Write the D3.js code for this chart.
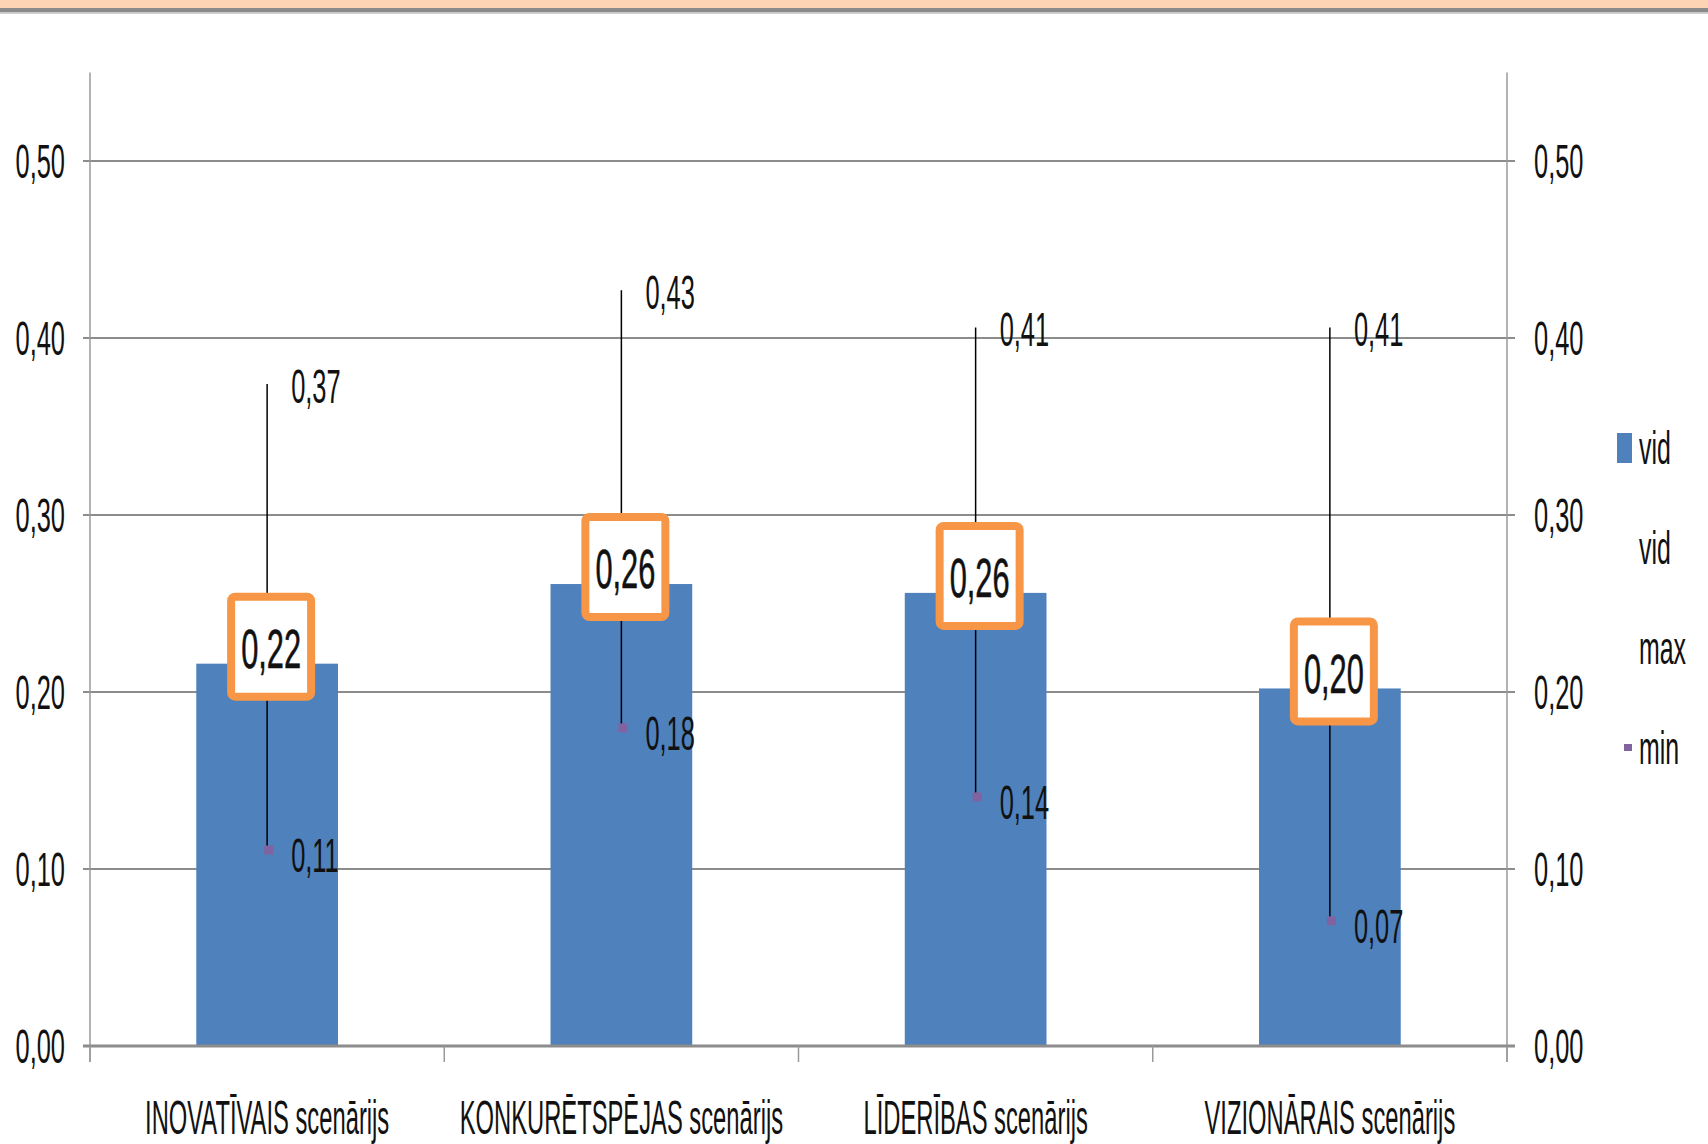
<!DOCTYPE html>
<html>
<head>
<meta charset="utf-8">
<script src="https://cdn.jsdelivr.net/npm/d3@7"></script>
<style>
  body { margin: 0; background: #fff; }
  text { font-family: "Liberation Sans", Arial, sans-serif; fill: #111; }
</style>
</head>
<body>
<div id="chart"></div>
<script>
var categories = ["INOVATĪVAIS scenārijs", "KONKURĒTSPĒJAS scenārijs", "LĪDERĪBAS scenārijs", "VIZIONĀRAIS scenārijs"];
var vid = [0.216, 0.261, 0.256, 0.202];
var maxVals = [0.374, 0.427, 0.406, 0.406];
var minVals = [0.111, 0.180, 0.141, 0.071];
var yTicks = [0, 0.1, 0.2, 0.3, 0.4, 0.5];
var legendItems = ["vid", "vid", "max", "min"];

var svgWidth = 1708;
var svgHeight = 1144;
var sx = 0.53; // narrow text like the original

var svg = d3.select("#chart")
  .append("svg")
  .attr("width", svgWidth)
  .attr("height", svgHeight);

var fmt = function(v) { return d3.format(".2f")(v).replace(".", ","); };

// squashed text helper
function label(g, x, y, txt, size, anchor, scale) {
  return g.append("text")
    .attr("transform", `translate(${x},${y}) scale(${scale || sx},1)`)
    .attr("text-anchor", anchor)
    .attr("dominant-baseline", "central")
    .attr("font-size", size)
    .text(txt);
}

// top border
svg.append("rect").attr("x", 0).attr("y", 0).attr("width", svgWidth).attr("height", 8).attr("fill", "#fdd4b4");
svg.append("rect").attr("x", 0).attr("y", 8).attr("width", svgWidth).attr("height", 4.5).attr("fill", "#8a8a8a");
svg.append("rect").attr("x", 0).attr("y", 12.5).attr("width", svgWidth).attr("height", 1.5).attr("fill", "#cfcfcf");

var x = d3.scaleBand()
  .domain(categories)
  .range([90, 1507])
  .padding(0);

var y = d3.scaleLinear()
  .domain([0, 0.55])
  .range([1046, 72.5]);

// gridlines
svg.append("g")
  .selectAll("line")
  .data(yTicks.slice(1))
  .enter()
  .append("line")
  .attr("x1", 83)
  .attr("x2", 1515)
  .attr("y1", d => y(d))
  .attr("y2", d => y(d))
  .attr("stroke", "#8c8c8c")
  .attr("stroke-width", 2);

// vertical axes
[90, 1507].forEach(function(ax) {
  svg.append("line")
    .attr("x1", ax).attr("x2", ax)
    .attr("y1", y(0.55)).attr("y2", 1062)
    .attr("stroke", "#9a9a9a")
    .attr("stroke-width", 1.5);
});

// bars
var barW = x.bandwidth() * 0.4;
svg.append("g")
  .selectAll("rect")
  .data(vid)
  .enter()
  .append("rect")
  .attr("x", (d, i) => x(categories[i]) + x.bandwidth() / 2 - barW / 2)
  .attr("y", d => y(d))
  .attr("width", barW)
  .attr("height", d => y(0) - y(d))
  .attr("fill", "#4f81bd");

// x axis line + category ticks
svg.append("line")
  .attr("x1", 83).attr("x2", 1515)
  .attr("y1", y(0)).attr("y2", y(0))
  .attr("stroke", "#8c8c8c")
  .attr("stroke-width", 3);

svg.append("g")
  .selectAll("line")
  .data(categories.concat(["end"]))
  .enter()
  .append("line")
  .attr("x1", (d, i) => i < categories.length ? x(d) : x.range()[1])
  .attr("x2", (d, i) => i < categories.length ? x(d) : x.range()[1])
  .attr("y1", y(0))
  .attr("y2", 1062)
  .attr("stroke", "#9a9a9a")
  .attr("stroke-width", 1.5);

// y tick labels, both sides
var tickG = svg.append("g");
yTicks.forEach(function(t) {
  label(tickG, 65, y(t), fmt(t), 48, "end");
  label(tickG, 1534, y(t), fmt(t), 48, "start");
});

// category labels
var catG = svg.append("g");
categories.forEach(function(c) {
  catG.append("text")
    .attr("transform", `translate(${x(c) + x.bandwidth() / 2},1134) scale(0.495,1)`)
    .attr("text-anchor", "middle")
    .attr("font-size", 48)
    .text(c);
});

// max-min lines
var errG = svg.append("g");
categories.forEach(function(c, i) {
  var cx = x(c) + x.bandwidth() / 2;
  errG.append("line")
    .attr("x1", cx).attr("x2", cx)
    .attr("y1", y(maxVals[i])).attr("y2", y(minVals[i]))
    .attr("stroke", "#000")
    .attr("stroke-width", 1.5);
  errG.append("rect")
    .attr("x", cx - 3).attr("y", y(minVals[i]) - 4)
    .attr("width", 9).attr("height", 9)
    .attr("fill", "#8064a2");
  label(errG, cx + 24, y(maxVals[i]) + 2, fmt(maxVals[i]), 48, "start");
  label(errG, cx + 24, y(minVals[i]) + 6, fmt(minVals[i]), 48, "start");
});

// vid label boxes
var boxG = svg.append("g");
categories.forEach(function(c, i) {
  var cx = x(c) + x.bandwidth() / 2 + 4;
  var cy = y(vid[i]) - 17;
  boxG.append("rect")
    .attr("x", cx - 40).attr("y", cy - 50)
    .attr("width", 80).attr("height", 100)
    .attr("rx", 4)
    .attr("fill", "#fff")
    .attr("stroke", "#f79646")
    .attr("stroke-width", 8);
  label(boxG, cx, cy + 2, fmt(vid[i]), 56, "middle", 0.55)
    .attr("stroke", "#111")
    .attr("stroke-width", 0.6);
});

// legend
var legG = svg.append("g");
legendItems.forEach(function(name, i) {
  var ly = 448 + i * 100;
  if (i === 0) {
    legG.append("rect").attr("x", 1617).attr("y", ly - 15).attr("width", 15).attr("height", 30).attr("fill", "#4f81bd");
  }
  if (i === 3) {
    legG.append("rect").attr("x", 1624).attr("y", ly - 4).attr("width", 8).attr("height", 7).attr("fill", "#8064a2");
  }
  label(legG, 1639, ly, name, 47, "start");
});
</script>
</body>
</html>
